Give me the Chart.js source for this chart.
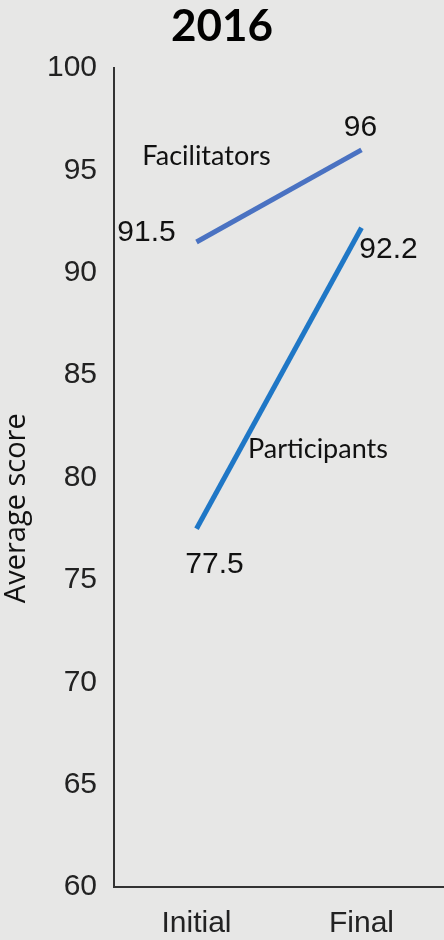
<!DOCTYPE html>
<html>
<head>
<meta charset="utf-8">
<script src="https://cdn.jsdelivr.net/npm/chart.js@4"></script>
<style>
    html, body { margin: 0; padding: 0; background: #e7e7e6; }
    #wrap { width: 444px; height: 940px; }
</style>
</head>
<body>
<div id="wrap"><canvas id="scoreChart"></canvas></div>
<script>
// average score before and after, 2016
const stages = ["Initial", "Final"];
const facilitators = [91.5, 96];
const participants = [77.5, 92.2];
const seriesNames = ["Facilitators", "Participants"];
const yTicks = [60, 65, 70, 75, 80, 85, 90, 95, 100];
const yAxisTitle = "Average score";

const numFont = "'Liberation Sans', Arial, sans-serif";
const nameFont = "Lato, 'Open Sans', sans-serif";

// value labels at each end of the lines, series names and the y axis title
const lineLabels = {
    id: "lineLabels",
    afterDatasetsDraw(chart) {
        const ctx = chart.ctx;
        const x = chart.scales.x;
        const y = chart.scales.y;
        // label offsets from each point, [dataset][index]
        const shift = [
            [[-50, -9], [-1, -22]],
            [[18, 36], [27, 22]]
        ];
        ctx.save();
        ctx.fillStyle = "#111";
        ctx.textAlign = "center";
        ctx.textBaseline = "middle";
        ctx.font = "30px " + numFont;
        chart.data.datasets.forEach((ds, i) => {
            const meta = chart.getDatasetMeta(i);
            meta.data.forEach((pt, j) => {
                ctx.fillText(String(ds.data[j]), pt.x + shift[i][j][0], pt.y + shift[i][j][1]);
            });
        });

        ctx.font = "27px " + nameFont;
        const mid = (x.getPixelForValue(0) + x.getPixelForValue(1)) / 2;
        ctx.fillText(seriesNames[0], x.getPixelForValue(0) + 10, y.getPixelForValue(95.7));
        ctx.fillText(seriesNames[1], mid + 39, y.getPixelForValue(81.4));

        // axis title sits a bit below the middle of the axis
        ctx.translate(17, y.getPixelForValue(78.5));
        ctx.rotate(-Math.PI / 2);
        ctx.font = "29px 'Open Sans', sans-serif";
        ctx.fillText(yAxisTitle, 0, 0);
        ctx.restore();
    }
};

document.addEventListener("DOMContentLoaded", function () {
    const canvas = document.getElementById("scoreChart");

    new Chart(canvas, {
        type: "line",
        data: {
            labels: stages,
            datasets: [
                {
                    label: seriesNames[0],
                    data: facilitators,
                    borderColor: "#4a72c2",
                    borderWidth: 5,
                    borderCapStyle: "butt",
                    pointRadius: 0,
                    tension: 0
                },
                {
                    label: seriesNames[1],
                    data: participants,
                    borderColor: "#1f77c6",
                    borderWidth: 5,
                    borderCapStyle: "butt",
                    pointRadius: 0,
                    tension: 0
                }
            ]
        },
        options: {
            responsive: true,
            maintainAspectRatio: false,
            animation: false,
            layout: { padding: 0 },
            plugins: {
                legend: { display: false },
                tooltip: { enabled: false },
                title: {
                    display: true,
                    text: "2016",
                    color: "#000",
                    font: { family: nameFont, size: 44, weight: "bold", lineHeight: 1.0 },
                    padding: { top: 5, bottom: 19 }
                }
            },
            scales: {
                x: {
                    offset: true,
                    afterFit(scale) {
                        scale.height = 53;
                    },
                    grid: { display: true, drawOnChartArea: false, drawTicks: false },
                    border: { display: true, color: "#333", width: 2 },
                    ticks: {
                        color: "#222",
                        padding: 22,
                        font: { family: numFont, size: 30, lineHeight: 1.0 }
                    }
                },
                y: {
                    min: 60,
                    max: 100,
                    afterBuildTicks(scale) {
                        scale.ticks = yTicks.map(v => ({ value: v }));
                    },
                    afterFit(scale) {
                        scale.width = 114;
                    },
                    grid: { display: true, drawOnChartArea: false, drawTicks: false },
                    border: { display: true, color: "#333", width: 2 },
                    ticks: {
                        color: "#222",
                        padding: 17,
                        font: { family: numFont, size: 30, lineHeight: 1.0 }
                    }
                }
            }
        },
        plugins: [lineLabels]
    });
});
</script>
</body>
</html>
